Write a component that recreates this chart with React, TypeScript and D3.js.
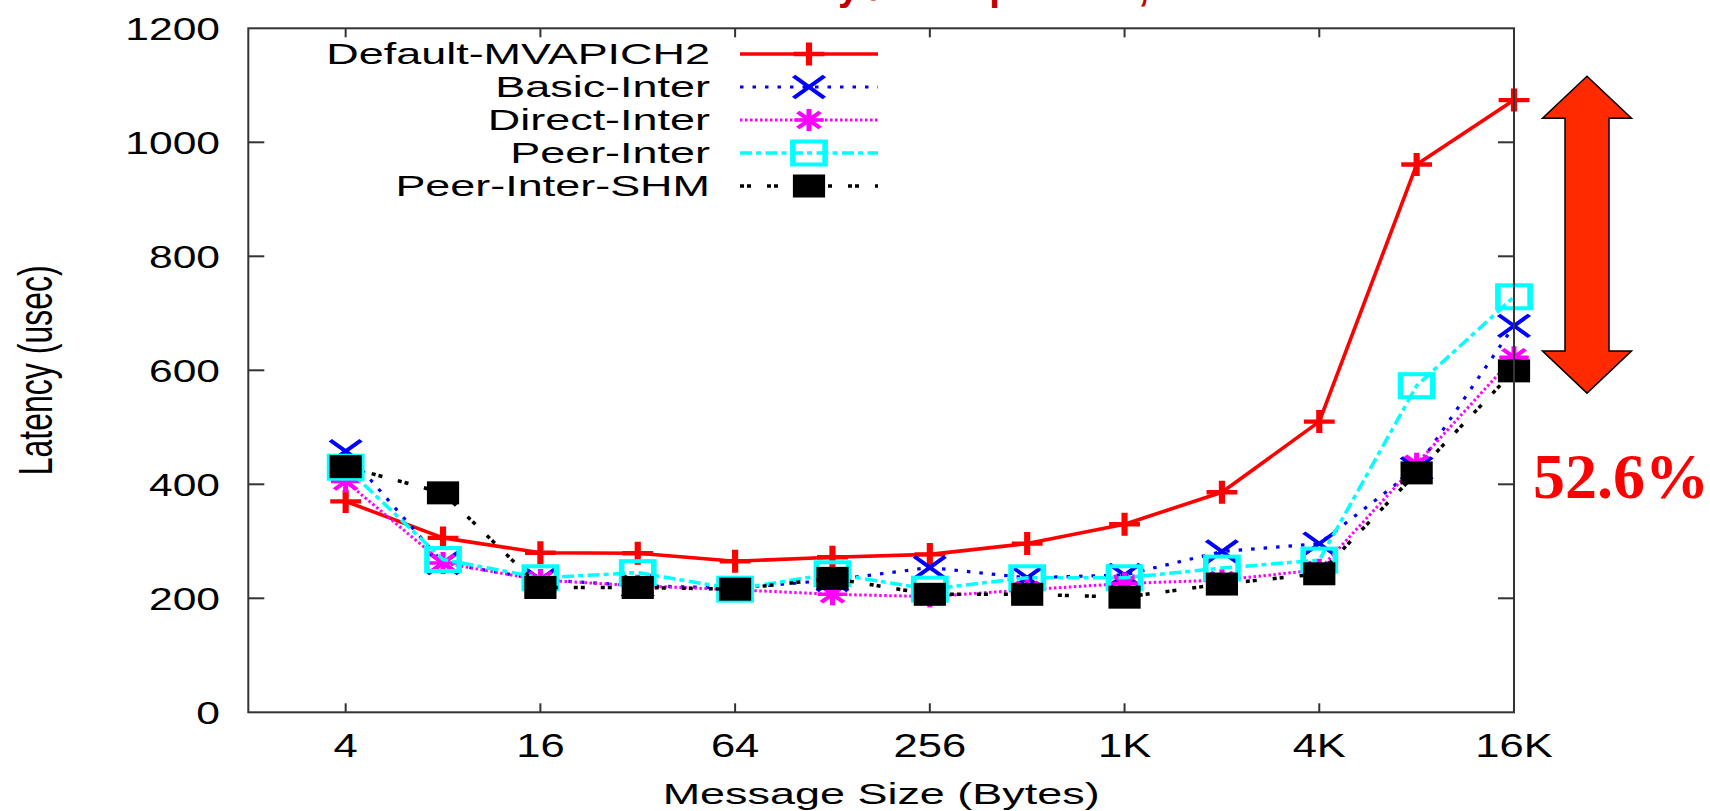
import * as d3 from "d3";
import { useEffect, useRef } from "react";

// message sizes (bytes) and latency (usec)
const sizes = [4, 8, 16, 32, 64, 128, 256, 512, 1024, 2048, 4096, 8192, 16384];
const xTickValues = [4, 16, 64, 256, 1024, 4096, 16384];
const xTickLabels = ["4", "16", "64", "256", "1K", "4K", "16K"];
const yTickValues = [0, 200, 400, 600, 800, 1000, 1200];

const defaultMvapich2 = [370, 306, 280, 279, 265, 272, 277, 296, 330, 386, 510, 961, 1074];
const basicInter = [458, 262, 233, 222, 218, 232, 254, 236, 241, 282, 296, 428, 678];
const directInter = [405, 262, 232, 222, 215, 207, 203, 215, 226, 232, 250, 436, 623];
const peerInter = [430, 268, 236, 245, 216, 243, 216, 236, 236, 253, 267, 573, 729];
const peerInterShm = [431, 385, 219, 219, 216, 235, 207, 207, 202, 225, 243, 420, 599];

const seriesNames = ["Default-MVAPICH2", "Basic-Inter", "Direct-Inter", "Peer-Inter", "Peer-Inter-SHM"];
const seriesValues = [defaultMvapich2, basicInter, directInter, peerInter, peerInterShm];

const titleText = "Intra-node Latency / Inter-process, 2 GPUs";
const xLabel = "Message Size (Bytes)";
const yLabel = "Latency (usec)";
const improvement = "52.6%";
const arrowEnds = [1116, 560]; // latency values at the arrow tips

const W = 1710;
const H = 811;
const plot = { left: 248.3, right: 1514, top: 28.3, bottom: 712.3 };
const SX = 1.4; // the source figure was stretched sideways
const font = "'Liberation Sans', Arial, Helvetica, sans-serif";

const styles = [
  { color: "#ff0000", dash: null, width: 3.6, marker: "plus" },
  { color: "#0000ff", dash: "3.5,9", width: 3.2, marker: "cross" },
  { color: "#ff00ff", dash: "2.5,2.5", width: 3, marker: "star" },
  { color: "#00ffff", dash: "12,4,5,4.5", width: 3.5, marker: "box" },
  { color: "#000000", dash: "4,3,4,16", width: 3.5, marker: "fbox" },
];

function drawMarker(g, kind, color) {
  if (kind === "plus") {
    g.append("path").attr("d", "M-11,0H11M0,-11.5V11.5").attr("stroke", color).attr("stroke-width", 4.4).attr("fill", "none");
  } else if (kind === "cross") {
    g.append("path").attr("d", "M-11,-11L11,11M-11,11L11,-11").attr("stroke", color).attr("stroke-width", 3.4).attr("fill", "none");
  } else if (kind === "star") {
    g.append("path")
      .attr("d", "M-10.5,0H10.5M0,-11V11M-8,-8L8,8M-8,8L8,-8")
      .attr("stroke", color).attr("stroke-width", 3.6).attr("fill", "none");
  } else if (kind === "box") {
    g.append("rect").attr("x", -11.5).attr("y", -11.5).attr("width", 23).attr("height", 23)
      .attr("stroke", color).attr("stroke-width", 4).attr("fill", "none");
  } else {
    g.append("rect").attr("x", -11.5).attr("y", -11.5).attr("width", 23).attr("height", 23).attr("fill", color);
  }
}

function stretchedText(parent, x, y, txt, size, sx, anchor) {
  return parent
    .append("text")
    .attr("transform", `translate(${x},${y}) scale(${sx},1)`)
    .attr("text-anchor", anchor)
    .attr("font-family", font)
    .attr("font-size", size)
    .attr("fill", "#000")
    .text(txt);
}

const App = () => {
  const ref = useRef(null);

  useEffect(() => {
    const svg = d3.select(ref.current);
    svg.selectAll("*").remove();

    const x = d3.scaleLog().base(2).domain([2, 16384]).range([plot.left, plot.right]);
    const y = d3.scaleLinear().domain([0, 1200]).range([plot.bottom, plot.top]);

    svg.append("rect").attr("width", W).attr("height", H).attr("fill", "#fff");

    // title, cropped by the top edge of the picture (only its lowest strokes show)
    svg.append("text")
      .attr("x", 512).attr("y", 0)
      .attr("textLength", 786).attr("lengthAdjust", "spacingAndGlyphs")
      .attr("font-family", font).attr("font-weight", "bold").attr("font-size", 40)
      .attr("fill", "#c00000")
      .text(titleText);

    // ticks (gnuplot style, inward, mirrored)
    const ticks = svg.append("g").attr("stroke", "#333").attr("stroke-width", 2);
    yTickValues.forEach((v) => {
      if (v === 0 || v === 1200) return;
      ticks.append("line").attr("x1", plot.left).attr("x2", plot.left + 16).attr("y1", y(v)).attr("y2", y(v));
      ticks.append("line").attr("x1", plot.right).attr("x2", plot.right - 16).attr("y1", y(v)).attr("y2", y(v));
    });
    xTickValues.forEach((v) => {
      if (v === 16384) return;
      ticks.append("line").attr("x1", x(v)).attr("x2", x(v)).attr("y1", plot.bottom).attr("y2", plot.bottom - 9);
      ticks.append("line").attr("x1", x(v)).attr("x2", x(v)).attr("y1", plot.top).attr("y2", plot.top + 9);
    });

    // tick labels
    yTickValues.forEach((v) => {
      stretchedText(svg, 220, y(v) + 11.5, String(v), 32, 1.33, "end");
    });
    xTickValues.forEach((v, i) => {
      stretchedText(svg, x(v), 757, xTickLabels[i], 33, 1.32, "middle");
    });

    // axis titles
    stretchedText(svg, (plot.left + plot.right) / 2, 804, xLabel, 29, 1.55, "middle");
    svg.append("text")
      .attr("transform", `translate(52,${(plot.top + plot.bottom) / 2}) rotate(-90) scale(1,1.5)`)
      .attr("text-anchor", "middle")
      .attr("font-family", font)
      .attr("font-size", 32)
      .text(yLabel);

    // series
    const line = d3.line().x((d) => x(d[0])).y((d) => y(d[1]));
    seriesValues.forEach((vals, si) => {
      const st = styles[si];
      const pts = sizes.map((s, i) => [s, vals[i]]);
      const g = svg.append("g");
      g.append("path")
        .attr("d", line(pts))
        .attr("fill", "none")
        .attr("stroke", st.color)
        .attr("stroke-width", st.width)
        .attr("stroke-dasharray", st.dash)
        .attr("stroke-linejoin", "round");
      pts.forEach((p) => {
        const m = g.append("g").attr("transform", `translate(${x(p[0])},${y(p[1])}) scale(${SX},1)`);
        drawMarker(m, st.marker, st.color);
      });
    });

    // legend
    const legend = svg.append("g");
    seriesNames.forEach((name, i) => {
      const cy = 54 + i * 33;
      const st = styles[i];
      stretchedText(legend, 710, cy + 10.4, name, 29, 1.55, "end");
      legend.append("line")
        .attr("x1", 740).attr("x2", 878).attr("y1", cy).attr("y2", cy)
        .attr("stroke", st.color).attr("stroke-width", st.width)
        .attr("stroke-dasharray", st.dash);
      const m = legend.append("g").attr("transform", `translate(809,${cy}) scale(${SX},1)`);
      drawMarker(m, st.marker, st.color);
    });

    // frame
    svg.append("rect")
      .attr("x", plot.left).attr("y", plot.top)
      .attr("width", plot.right - plot.left).attr("height", plot.bottom - plot.top)
      .attr("fill", "none").attr("stroke", "#333").attr("stroke-width", 2);

    // double arrow annotation
    const cx = 1587;
    const top = y(arrowEnds[0]);
    const bot = y(arrowEnds[1]);
    const hw = 44.5, sw = 22, hl = 42;
    const arrow = [
      [cx, top], [cx + hw, top + hl], [cx + sw, top + hl], [cx + sw, bot - hl],
      [cx + hw, bot - hl], [cx, bot], [cx - hw, bot - hl], [cx - sw, bot - hl],
      [cx - sw, top + hl], [cx - hw, top + hl],
    ];
    svg.append("polygon")
      .attr("points", arrow.map((p) => p.join(",")).join(" "))
      .attr("fill", "#ff2a00")
      .attr("stroke", "#000")
      .attr("stroke-width", 1.5);

    svg.append("text")
      .attr("x", 1621).attr("y", 498)
      .attr("text-anchor", "middle")
      .attr("font-family", "'Liberation Serif', 'Times New Roman', serif")
      .attr("font-weight", "bold")
      .attr("font-size", 64)
      .attr("fill", "#ff0000")
      .text(improvement);
  }, []);

  return (
    <svg
      ref={ref}
      width={W}
      height={H}
      style={{ position: "absolute", left: 0, top: 0, display: "block" }}
    />
  );
};

export default App;
